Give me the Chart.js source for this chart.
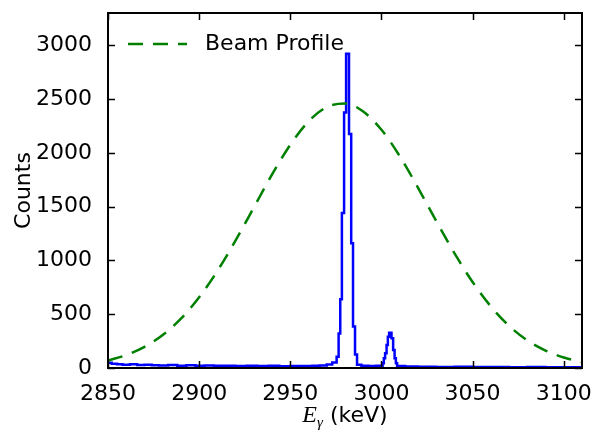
<!DOCTYPE html>
<html>
<head>
<meta charset="utf-8">
<script src="https://cdn.jsdelivr.net/npm/chart.js@4.4.1/dist/chart.umd.min.js"></script>
<style>
  html, body { margin: 0; padding: 0; background: #fff; }
  #wrap { width: 604px; height: 430px; }
</style>
</head>
<body>
<div id="wrap"><canvas id="spectrum" width="604" height="430"></canvas></div>
<script>
// spectrum (histogram, left bin edges in keV and counts)
const specE = [2850, 2852, 2855, 2858, 2862, 2866, 2870, 2874, 2878, 2883,
    2888, 2893, 2898, 2903, 2908, 2914, 2920, 2926, 2932, 2938,
    2944, 2950, 2956, 2962, 2966, 2970, 2973, 2975.4, 2976.5, 2977.4,
    2978.3, 2979.5, 2980.6, 2982.2, 2983.4, 2984.4, 2985.5, 2986.6, 2989, 2993,
    2997, 3000.6, 3001.3, 3002.0, 3002.8, 3003.5, 3004.2, 3005.5, 3006.4, 3007.2,
    3007.9, 3008.6, 3013, 3020, 3030, 3040, 3050, 3060, 3070, 3080,
    3090, 3100, 3110];
const specCounts = [48, 40, 35, 30, 34, 28, 31, 26, 24, 27,
    22, 25, 21, 23, 20, 22, 19, 21, 18, 20,
    17, 19, 18, 20, 24, 32, 50, 105, 320, 640,
    1440, 2375, 2922, 2175, 1160, 385, 125, 30, 22, 18,
    20, 45, 90, 137, 214, 291, 328, 276, 167, 90,
    44, 18, 14, 12, 10, 11, 9, 10, 8, 9,
    8, 7, 7];

// beam profile (dashed)
const beamE = [2850, 2860, 2870, 2880, 2890, 2900, 2910, 2920, 2930, 2940,
    2950, 2960, 2970, 2980, 2990, 3000, 3010, 3020, 3030, 3040,
    3050, 3060, 3070, 3080, 3090, 3100, 3110];
const beamCounts = [70, 120, 196, 306, 458, 657, 902, 1186, 1492, 1799,
    2075, 2293, 2426, 2459, 2384, 2214, 1970, 1677, 1368, 1068,
    799, 572, 392, 257, 162, 97, 56];

const xTicks = [2850, 2900, 2950, 3000, 3050, 3100];
const yTicks = [0, 500, 1000, 1500, 2000, 2500, 3000];
const legendLabel = 'Beam Profile';

const FONT = 'DejaVu Sans';
const DASH = [15, 10];

// frame, inward ticks, legend and x axis title (matplotlib look)
const framePlugin = {
    id: 'frame',
    afterDraw(chart) {
        const ctx = chart.ctx;
        const { left, right, top, bottom } = chart.chartArea;
        const xs = chart.scales.x, ys = chart.scales.y;
        const tl = 7;
        ctx.save();
        ctx.strokeStyle = '#000';
        ctx.lineWidth = 1.5;
        ctx.beginPath();
        xTicks.forEach(v => {
            const px = Math.round(xs.getPixelForValue(v)) + 0.5;
            ctx.moveTo(px, bottom); ctx.lineTo(px, bottom - tl);
            ctx.moveTo(px, top); ctx.lineTo(px, top + tl);
        });
        yTicks.forEach(v => {
            const py = Math.round(ys.getPixelForValue(v)) + 0.5;
            ctx.moveTo(left, py); ctx.lineTo(left + tl, py);
            ctx.moveTo(right, py); ctx.lineTo(right - tl, py);
        });
        ctx.stroke();
        ctx.lineWidth = 2;
        ctx.strokeRect(left, top, right - left, bottom - top);

        // legend
        const ly = 44;
        ctx.strokeStyle = '#008000';
        ctx.lineWidth = 2.5;
        ctx.setLineDash(DASH);
        ctx.beginPath();
        ctx.moveTo(left + 20, ly); ctx.lineTo(left + 79, ly);
        ctx.stroke();
        ctx.setLineDash([]);
        ctx.fillStyle = '#000';
        ctx.font = '22px "' + FONT + '"';
        ctx.textBaseline = 'middle';
        ctx.textAlign = 'left';
        ctx.fillText(legendLabel, left + 97, ly);

        // x axis title: E_gamma (keV)
        const cx = (left + right) / 2;
        const base = 422;
        ctx.textBaseline = 'alphabetic';
        ctx.font = 'italic 24px "Liberation Serif"';
        const wE = ctx.measureText('E').width;
        ctx.font = 'italic 15px "Liberation Serif"';
        const wG = ctx.measureText('\u03B3').width;
        ctx.font = '22px "' + FONT + '"';
        const wK = ctx.measureText(' (keV)').width;
        let x0 = cx - (wE + wG + wK) / 2;
        ctx.font = 'italic 24px "Liberation Serif"';
        ctx.fillText('E', x0, base);
        ctx.font = 'italic 15px "Liberation Serif"';
        ctx.fillText('\u03B3', x0 + wE, base + 5);
        ctx.font = '22px "' + FONT + '"';
        ctx.fillText(' (keV)', x0 + wE + wG, base);
        ctx.restore();
    }
};

const ctx = document.getElementById('spectrum').getContext('2d');

new Chart(ctx, {
    type: 'line',
    data: {
        datasets: [{
            label: legendLabel,
            data: beamE.map((e, i) => ({ x: e, y: beamCounts[i] })),
            borderColor: '#008000',
            borderWidth: 2.5,
            borderDash: DASH,
            pointRadius: 0,
            cubicInterpolationMode: 'monotone',
            fill: false
        }, {
            label: 'Spectrum',
            data: specE.map((e, i) => ({ x: e, y: specCounts[i] })),
            borderColor: '#0000ff',
            borderWidth: 2.5,
            pointRadius: 0,
            stepped: true,
            fill: false
        }]
    },
    plugins: [framePlugin],
    options: {
        responsive: false,
        animation: false,
        events: [],
        layout: { padding: { top: 13, right: 22, left: 0, bottom: 0 } },
        plugins: {
            legend: { display: false },
            tooltip: { enabled: false }
        },
        scales: {
            x: {
                type: 'linear',
                min: 2850,
                max: 3110,
                grid: { display: false },
                border: { display: false },
                afterBuildTicks: s => { s.ticks = xTicks.map(v => ({ value: v })); },
                afterFit: s => { s.height = 62; s.paddingLeft = 0; s.paddingRight = 0; },
                ticks: {
                    color: '#000',
                    padding: 5,
                    maxRotation: 0,
                    autoSkip: false,
                    callback: v => String(v),
                    font: { family: FONT, size: 22 }
                }
            },
            y: {
                type: 'linear',
                min: 0,
                max: 3300,
                grid: { display: false },
                border: { display: false },
                afterBuildTicks: s => { s.ticks = yTicks.map(v => ({ value: v })); },
                afterFit: s => { s.width = 108; s.paddingTop = 0; s.paddingBottom = 0; },
                ticks: {
                    color: '#000',
                    padding: 8,
                    autoSkip: false,
                    callback: v => String(v),
                    font: { family: FONT, size: 22 }
                },
                title: {
                    display: true,
                    text: 'Counts',
                    color: '#000',
                    padding: { top: 11, bottom: 0 },
                    font: { family: FONT, size: 22 }
                }
            }
        }
    }
});
</script>
</body>
</html>
